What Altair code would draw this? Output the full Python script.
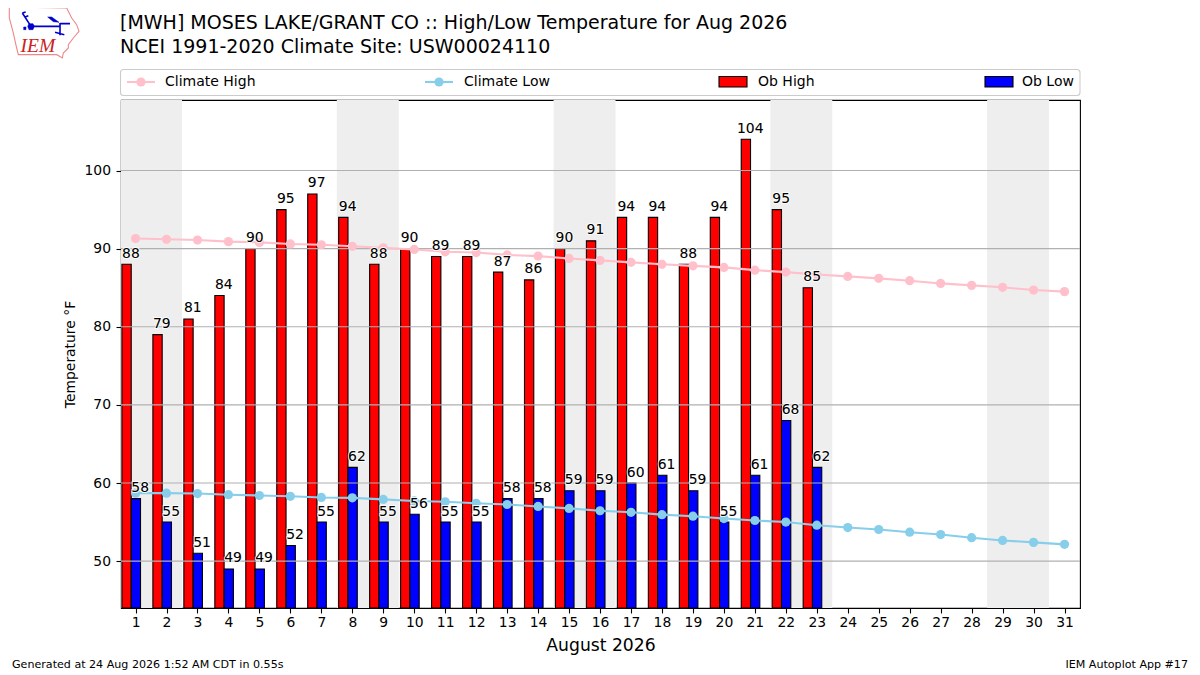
import altair as alt
import pandas as pd

days = list(range(1, 32))
ob_high = [88, 79, 81, 84, 90, 95, 97, 94, 88, 90, 89, 89, 87, 86, 90, 91, 94, 94, 88, 94, 104, 95, 85]
ob_low = [58, 55, 51, 49, 49, 52, 55, 62, 55, 56, 55, 55, 58, 58, 59, 59, 60, 61, 59, 55, 61, 68, 62]
climate_high = [91.3, 91.2, 91.1, 90.9, 90.8, 90.6, 90.5, 90.3, 90.1, 89.9, 89.6, 89.5, 89.2, 89.05, 88.75, 88.5,
                88.25, 88.0, 87.8, 87.6, 87.25, 87.0, 86.7, 86.45, 86.2, 85.9, 85.55, 85.3, 85.05, 84.7, 84.5]
climate_low = [58.7, 58.7, 58.65, 58.5, 58.4, 58.3, 58.15, 58.1, 57.9, 57.7, 57.6, 57.4, 57.25, 57.0, 56.75, 56.45,
               56.25, 55.95, 55.75, 55.45, 55.2, 55.0, 54.6, 54.3, 54.05, 53.7, 53.4, 53.0, 52.65, 52.4, 52.15]
weekend_start = [0.5, 7.5, 14.5, 21.5, 28.5]
weekend_end = [2.5, 9.5, 16.5, 23.5, 30.5]
y_ticks = [50, 60, 70, 80, 90, 100]

FONT = "DejaVu Sans"
PX, PY = 121, 100  # plot-area origin on the page

xs = alt.Scale(domain=[0.53, 31.5], nice=False, zero=False)
ys = alt.Scale(domain=[44, 109.03], nice=False, zero=False)
xaxis = alt.Axis(values=days, title="August 2026", titleFontSize=17.2, titleFontWeight="normal",
                 titleColor="black", titleFont=FONT, titlePadding=7.5, labelFontSize=13.9, labelColor="black",
                 labelFont=FONT, labelPadding=2.5, labelFlush=False, labelOverlap=False, grid=False,
                 tickColor="black", tickSize=5, tickWidth=1.1, domainColor="black", domainWidth=1.1, format="d")
yaxis = alt.Axis(values=y_ticks, title="Temperature °F", titleFontSize=13.9, titleFontWeight="normal",
                 titleColor="black", titleFont=FONT, titlePadding=6.5, labelFontSize=13.9, labelColor="black",
                 labelFont=FONT, labelPadding=5.5, grid=False, tickColor="black", tickSize=5, tickWidth=1.1,
                 domainColor="black", domainWidth=1.1, format="d")


def X(field):
    return alt.X(f"{field}:Q", scale=xs, axis=xaxis)


def Y(field):
    return alt.Y(f"{field}:Q", scale=ys, axis=yaxis)


obs = pd.DataFrame({"day": days[:len(ob_high)], "high": ob_high, "low": ob_low})
clim = pd.DataFrame({"day": days, "chigh": climate_high, "clow": climate_low})
wk = pd.DataFrame({"start": weekend_start, "end": weekend_end})
grid = pd.DataFrame({"y": y_ticks})
one = pd.DataFrame({"a": [1]})

weekends = alt.Chart(wk).mark_rect(color="#eeeeee", clip=True).encode(
    x=X("start"), x2="end:Q", y=alt.value(0), y2=alt.value(508))

bar_style = dict(stroke="black", strokeWidth=1.1)
bars_high = alt.Chart(obs).transform_calculate(x0="datum.day-0.44", x1="datum.day-0.14").mark_rect(
    color="#ff0000", **bar_style).encode(x=X("x0"), x2="x1:Q", y=Y("high"), y2=alt.value(508))
bars_low = alt.Chart(obs).transform_calculate(x0="datum.day-0.14", x1="datum.day+0.16").mark_rect(
    color="#0000ff", **bar_style).encode(x=X("x0"), x2="x1:Q", y=Y("low"), y2=alt.value(508))

grid_rules = alt.Chart(grid).mark_rule(color="#b0b0b0", strokeWidth=1.1).encode(y=Y("y"))


def clim_line(field, color):
    base = alt.Chart(clim).encode(x=X("day"), y=Y(field))
    return base.mark_line(color=color, strokeWidth=2.1) + base.mark_point(
        color=color, filled=True, opacity=1, size=85)


def labels(field, shift):
    base = alt.Chart(obs).transform_calculate(x0=f"datum.day{shift}").encode(
        x=X("x0"), y=Y(field), text=alt.Text(f"{field}:Q", format="d"))
    style = dict(font=FONT, fontSize=13.9, align="center", baseline="alphabetic", dy=-6.5)
    return base.mark_text(stroke="white", strokeWidth=2, strokeOpacity=0.85, **style) + base.mark_text(color="black", **style)


def page_text(text, x, y, size=14, align="left", color="black", font=FONT, **kw):
    return alt.Chart(one).mark_text(text=text, font=font, fontSize=size, align=align, baseline="middle",
                                    color=color, **kw).encode(x=alt.value(x - PX), y=alt.value(y - PY))


# legend frame and entries
legend = [alt.Chart(one).mark_rect(fill="white", stroke="#cccccc", strokeWidth=1.1, cornerRadius=3).encode(
    x=alt.value(120.5 - PX), x2=alt.value(1080 - PX), y=alt.value(69.5 - PY), y2=alt.value(95.5 - PY))]
for x0, tx, name, color in [(127, 165, "Climate High", "#ffc0cb"), (425, 464, "Climate Low", "#87ceeb")]:
    legend.append(alt.Chart(one).mark_rule(color=color, strokeWidth=2.1).encode(
        x=alt.value(x0 - PX), x2=alt.value(x0 + 28 - PX), y=alt.value(82 - PY)))
    legend.append(alt.Chart(one).mark_point(color=color, filled=True, opacity=1, size=85).encode(
        x=alt.value(x0 + 14 - PX), y=alt.value(82 - PY)))
    legend.append(page_text(name, tx, 82))
for x0, tx, name, color in [(719, 758, "Ob High", "#ff0000"), (985, 1022, "Ob Low", "#0000ff")]:
    legend.append(alt.Chart(one).mark_rect(fill=color, stroke="black", strokeWidth=1.1).encode(
        x=alt.value(x0 - PX), x2=alt.value(x0 + 28 - PX), y=alt.value(76.5 - PY), y2=alt.value(87 - PY)))
    legend.append(page_text(name, tx, 82))


# logo: coordinates read in the 3x zoom of the logo, turned into a -1..1 symbol path
def zpath(points, close=True):
    conv = [f"{(a / 3 - 39) / 34:.3f},{(b / 3 - 29.5) / 34:.3f}" for a, b in points]
    return "M" + "L".join(conv) + ("Z" if close else "")


outline = [(13, 12), (185, 15), (200, 45), (215, 65), (222, 85), (205, 105), (190, 125), (190, 135), (175, 150),
           (172, 165), (155, 155), (40, 155), (35, 135), (25, 90), (13, 45)]
wires = " ".join([zpath([(78, 70), (165, 70)], False), zpath([(78, 70), (52, 30)], False),
                  zpath([(52, 30), (62, 27)], False), zpath([(60, 42), (70, 38)], False),
                  zpath([(165, 60), (165, 97)], False), zpath([(150, 88), (178, 95)], False),
                  zpath([(165, 62), (195, 62)], False)])
solid = " ".join([zpath([(128, 42), (140, 42), (162, 58), (145, 56)]),
                  zpath([(72, 62), (84, 62), (88, 70), (84, 80), (72, 80), (68, 70)]),
                  zpath([(56, 72), (63, 72), (63, 80), (56, 80)])])
LOGO_SIZE = 68 ** 2


def logo_mark(path, **kw):
    return alt.Chart(one).mark_point(shape=path, size=LOGO_SIZE, **kw).encode(
        x=alt.value(44 - PX), y=alt.value(32.5 - PY))


logo = [logo_mark(zpath(outline), stroke="#ee8888", strokeWidth=1.1, filled=False, opacity=1),
        logo_mark(wires, stroke="#0000cc", strokeWidth=1.6, filled=False, opacity=1),
        logo_mark(solid, fill="#0000cc", stroke="#0000cc", strokeWidth=0.5, filled=True, opacity=1),
        page_text("IEM", 20.5, 45.5, size=19.5, color="#cc2222", font="Liberation Serif", fontStyle="italic")]

footer = [page_text("Generated at 24 Aug 2026 1:52 AM CDT in 0.55s", 12, 665, size=11.1),
          page_text("IEM Autoplot App #17", 1188, 665, size=11.1, align="right")]

chart = alt.layer(
    weekends, bars_high, bars_low, grid_rules,
    clim_line("chigh", "#ffc0cb"), clim_line("clow", "#87ceeb"),
    labels("high", "-0.15"), labels("low", "+0.15"),
    *legend, *logo, *footer
).properties(
    width=959, height=508, autosize="none",
    padding={"left": 113, "top": 92, "right": 112, "bottom": 63},
    background="white",
    title=alt.TitleParams(
        text=["[MWH] MOSES LAKE/GRANT CO :: High/Low Temperature for Aug 2026",
              "NCEI 1991-2020 Climate Site: USW00024110"],
        anchor="start", frame="group", dx=-1, offset=-52, font=FONT, fontSize=19, fontWeight="normal",
        color="black", lineHeight=23.5),
).configure_view(stroke="black", strokeWidth=1.1)

chart.save("out.html", embed_options={"renderer": "svg", "actions": False})
